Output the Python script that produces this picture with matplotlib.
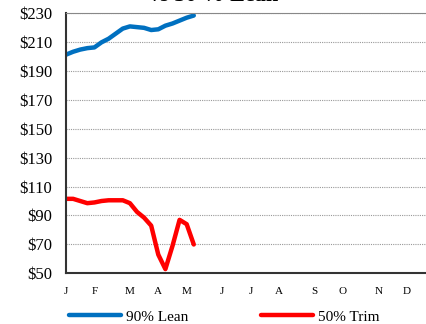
import matplotlib.pyplot as plt
import numpy as np

# weekly prices, week 0 = first week of January
lean_90 = [201, 203, 204.5, 205.5, 206, 209.5, 212, 215.5, 219, 220.5,
           220, 219.5, 218, 218.5, 221, 222.5, 224.5, 226.5, 228]
trim_50 = [101.5, 101.5, 100, 98.5, 99, 100, 100.5, 100.5, 100.5, 98.5,
           92.5, 88.5, 83, 63, 53, 69, 87, 84, 70]
month_labels = ['J', 'F', 'M', 'A', 'M', 'J', 'J', 'A', 'S', 'O', 'N', 'D']
month_weeks = [0, 4, 9, 13, 17, 22, 26, 30, 35, 39, 44, 48]
y_ticks = list(range(50, 231, 20))

plt.rcParams['font.family'] = ['Liberation Serif', 'DejaVu Serif']

fig = plt.figure(figsize=(4.27, 3.24), dpi=100)
ax = fig.add_axes([0.1546, 0.156, 0.881, 0.805])

weeks = np.arange(len(lean_90))
ax.plot(weeks, lean_90, color='#0070C0', lw=3.2, solid_capstyle='round',
        label='90% Lean')
ax.plot(weeks, trim_50, color='#FF0000', lw=3.2, solid_capstyle='round',
        label='50% Trim')

ax.set_xlim(0, 53)
ax.set_ylim(50, 230)
ax.set_yticks(y_ticks)
ax.set_yticklabels([f'${v}' for v in y_ticks], fontsize=12)
ax.set_xticks(month_weeks)
ax.set_xticklabels(month_labels, fontsize=8)
ax.tick_params(axis='y', length=0, pad=10)
ax.tick_params(axis='x', length=0, pad=10)
ax.grid(axis='y', color='#999999', ls=(0, (1, 1)), lw=0.8)
ax.set_axisbelow(True)

for side in ['left', 'bottom']:
    ax.spines[side].set_color('#333333')
    ax.spines[side].set_linewidth(1.5)
ax.spines['top'].set_color('#888888')
ax.spines['right'].set_visible(False)

# title sits mostly above the canvas, as in the source chart
fig.text(0.5, 0.996, 'vs 50 % Lean', ha='center', va='baseline',
         fontsize=16, fontweight='bold')

fig.legend(loc='center', bbox_to_anchor=(0.525, 0.022), ncol=2, frameon=False,
           fontsize=11, handlelength=3.4, handletextpad=0.3, columnspacing=4.8)

fig.savefig('out.png', dpi=100)
